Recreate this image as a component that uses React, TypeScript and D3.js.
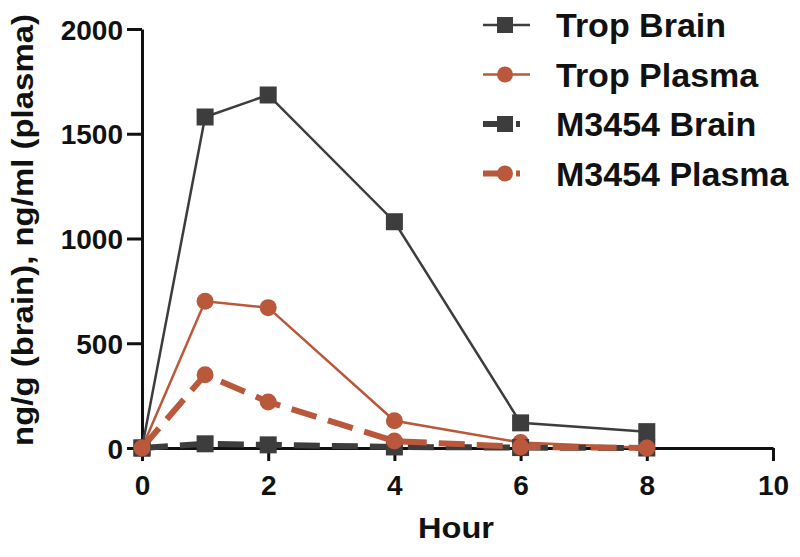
import React, { useEffect, useRef } from 'react'
import * as d3 from 'd3'

const HOURS = [0, 1, 2, 4, 6, 8]
const TROP_BRAIN = [0, 1580, 1685, 1080, 120, 78]
const TROP_PLASMA = [0, 700, 670, 130, 26, 0]
const M3454_BRAIN = [0, 20, 15, 5, 2, 0]
const M3454_PLASMA = [0, 350, 220, 33, 5, 0]
const X_TICKS = [0, 2, 4, 6, 8, 10]
const Y_TICKS = [0, 500, 1000, 1500, 2000]

const GRAY = '#3d3d3d'
const RUST = '#b9583b'

const SERIES = [
  { name: 'Trop Brain', values: TROP_BRAIN, color: GRAY, width: 2.5, dash: null, shape: 'square' },
  { name: 'Trop Plasma', values: TROP_PLASMA, color: RUST, width: 2.5, dash: null, shape: 'circle' },
  { name: 'M3454 Brain', values: M3454_BRAIN, color: GRAY, width: 6, dash: '26,12', shape: 'square' },
  { name: 'M3454 Plasma', values: M3454_PLASMA, color: RUST, width: 6, dash: '26,12', shape: 'circle' }
]

const App = () => {
  const ref = useRef<SVGSVGElement>(null)

  useEffect(() => {
    const svg = d3.select(ref.current)
    svg.selectAll('*').remove()

    const font = 'Liberation Sans, Arial, sans-serif'
    const x = d3.scaleLinear().domain([0, 10]).range([142, 773])
    const y = d3.scaleLinear().domain([0, 2000]).range([448, 29])

    // axes
    const xAxis = svg.append('g').attr('transform', `translate(0,${y(0)})`)
      .call(d3.axisBottom(x).tickValues(X_TICKS).tickFormat(d3.format('d')).tickSize(13).tickPadding(14).tickSizeOuter(0))
    const yAxis = svg.append('g').attr('transform', `translate(${x(0)},0)`)
      .call(d3.axisLeft(y).tickValues(Y_TICKS).tickFormat(d3.format('d')).tickSize(15).tickPadding(4).tickSizeOuter(0))

    ;[xAxis, yAxis].forEach(a => {
      a.select('.domain').attr('stroke', '#111').attr('stroke-width', 3)
      a.selectAll('.tick line').attr('stroke', '#111').attr('stroke-width', 3)
      a.selectAll('.tick text')
        .attr('fill', '#111')
        .style('font-family', font)
        .style('font-size', '28px')
        .style('font-weight', 'bold')
    })
    yAxis.selectAll('.tick text').attr('dy', '0.36em')
    xAxis.selectAll('.tick text').attr('dy', '0.72em')

    // axis titles
    svg.append('text')
      .attr('x', 456).attr('y', 538)
      .attr('text-anchor', 'middle')
      .attr('textLength', 76).attr('lengthAdjust', 'spacingAndGlyphs')
      .style('font-family', font).style('font-size', '29px').style('font-weight', 'bold')
      .attr('fill', '#111')
      .text('Hour')

    svg.append('text')
      .attr('transform', 'translate(33,230) rotate(-90)')
      .attr('text-anchor', 'middle')
      .attr('textLength', 432).attr('lengthAdjust', 'spacingAndGlyphs')
      .style('font-family', font).style('font-size', '30px').style('font-weight', 'bold')
      .attr('fill', '#111')
      .text('ng/g (brain), ng/ml (plasma)')

    const line = d3.line<number>().x((d, i) => x(HOURS[i])).y(d => y(d))

    const drawMarker = (g, shape, cx, cy, color, size) => {
      if (shape === 'square') {
        g.append('rect')
          .attr('x', cx - size / 2).attr('y', cy - size / 2)
          .attr('width', size).attr('height', size)
          .attr('fill', color)
      } else {
        g.append('circle').attr('cx', cx).attr('cy', cy).attr('r', size / 2).attr('fill', color)
      }
    }

    SERIES.forEach(s => {
      const g = svg.append('g')
      g.append('path')
        .attr('d', line(s.values))
        .attr('fill', 'none')
        .attr('stroke', s.color)
        .attr('stroke-width', s.width)
        .attr('stroke-dasharray', s.dash)
      s.values.forEach((v, i) => drawMarker(g, s.shape, x(HOURS[i]), y(v), s.color, 17))
    })

    // legend
    const legend = svg.append('g')
    SERIES.forEach((s, i) => {
      const cy = 25 + i * 49.5
      const row = legend.append('g')
      row.append('line')
        .attr('x1', 483).attr('x2', 530).attr('y1', cy).attr('y2', cy)
        .attr('stroke', s.color).attr('stroke-width', s.width)
        .attr('stroke-dasharray', s.dash ? '27,6,4,20' : null)
      drawMarker(row, s.shape, 505, cy, s.color, 16)
      row.append('text')
        .attr('x', 556).attr('y', cy + 12)
        .style('font-family', font).style('font-size', '34px').style('font-weight', 'bold')
        .attr('fill', '#111')
        .text(s.name)
    })
  }, [])

  return (
    <svg ref={ref} width={800} height={557}
      style={{ position: 'absolute', left: 0, top: 0, background: '#fff' }} />
  )
}

export default App
